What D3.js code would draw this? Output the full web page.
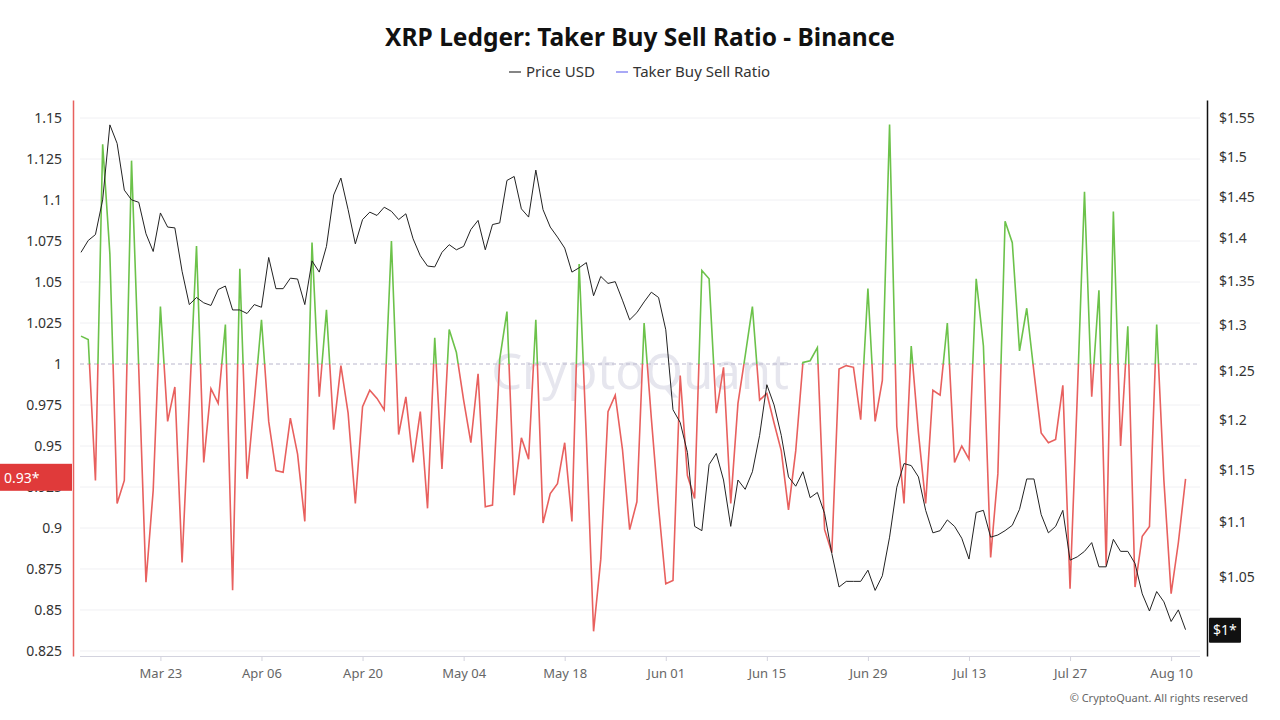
<!DOCTYPE html>
<html>
<head>
<meta charset="utf-8">
<script src="https://cdn.jsdelivr.net/npm/d3@7"></script>
<style>
  body { margin: 0; background: #fff; font-family: "Noto Sans", "Open Sans", sans-serif; }
  svg text { font-family: "Noto Sans", "Open Sans", sans-serif; }
</style>
</head>
<body>
<div id="chart"></div>
<script>
// daily series, first day below, one value per day
var startDay = "2025-03-12";
var priceUSD = [
  1.383, 1.397, 1.404, 1.446, 1.541, 1.517, 1.458, 1.446, 1.443, 1.405,
  1.384, 1.430, 1.413, 1.412, 1.361, 1.323, 1.331, 1.325, 1.322, 1.340,
  1.344, 1.317, 1.317, 1.313, 1.323, 1.320, 1.377, 1.341, 1.341, 1.353,
  1.352, 1.323, 1.373, 1.360, 1.390, 1.452, 1.473, 1.434, 1.393, 1.422,
  1.431, 1.427, 1.437, 1.432, 1.422, 1.429, 1.399, 1.379, 1.367, 1.366,
  1.383, 1.392, 1.386, 1.390, 1.410, 1.421, 1.386, 1.416, 1.418, 1.470,
  1.475, 1.435, 1.425, 1.483, 1.434, 1.413, 1.401, 1.388, 1.360, 1.365,
  1.371, 1.333, 1.355, 1.347, 1.349, 1.328, 1.306, 1.314, 1.326, 1.337,
  1.331, 1.295, 1.210, 1.197, 1.167, 1.096, 1.092, 1.155, 1.166, 1.140,
  1.096, 1.140, 1.131, 1.148, 1.184, 1.236, 1.215, 1.184, 1.143, 1.134,
  1.148, 1.123, 1.128, 1.108, 1.071, 1.041, 1.046, 1.046, 1.046, 1.056,
  1.038, 1.051, 1.086, 1.133, 1.156, 1.154, 1.143, 1.111, 1.090, 1.092,
  1.102, 1.096, 1.085, 1.066, 1.109, 1.111, 1.086, 1.088, 1.092, 1.097,
  1.112, 1.141, 1.141, 1.107, 1.090, 1.096, 1.111, 1.065, 1.068, 1.073,
  1.081, 1.059, 1.059, 1.084, 1.073, 1.073, 1.062, 1.035, 1.020, 1.037,
  1.028, 1.011, 1.021, 1.004
];
var takerRatio = [
  1.017, 1.015, 0.929, 1.134, 1.067, 0.915, 0.929, 1.124, 0.997, 0.867,
  0.923, 1.035, 0.965, 0.986, 0.879, 0.975, 1.072, 0.940, 0.985, 0.976,
  1.024, 0.862, 1.058, 0.930, 0.977, 1.027, 0.965, 0.935, 0.934, 0.967,
  0.945, 0.904, 1.074, 0.980, 1.033, 0.960, 0.999, 0.970, 0.915, 0.974,
  0.984, 0.979, 0.972, 1.075, 0.957, 0.980, 0.940, 0.971, 0.912, 1.016,
  0.936, 1.021, 1.007, 0.978, 0.952, 0.994, 0.913, 0.914, 1.003, 1.032,
  0.920, 0.955, 0.942, 1.027, 0.903, 0.921, 0.927, 0.952, 0.904, 1.061,
  0.955, 0.837, 0.881, 0.971, 0.981, 0.948, 0.899, 0.916, 1.025, 0.967,
  0.913, 0.866, 0.868, 0.993, 0.932, 0.918, 1.057, 1.052, 0.970, 0.998,
  0.915, 0.976, 1.005, 1.035, 0.978, 0.982, 0.964, 0.947, 0.911, 0.947,
  1.001, 1.002, 1.010, 0.899, 0.885, 0.997, 0.999, 0.998, 0.966, 1.046,
  0.965, 0.990, 1.146, 0.962, 0.915, 1.011, 0.958, 0.915, 0.984, 0.981,
  1.025, 0.940, 0.950, 0.942, 1.052, 1.011, 0.882, 0.933, 1.087, 1.074,
  1.008, 1.034, 0.995, 0.958, 0.952, 0.954, 0.987, 0.863, 0.980, 1.105,
  0.980, 1.045, 0.877, 1.093, 0.950, 1.023, 0.864, 0.895, 0.901, 1.024,
  0.929, 0.860, 0.891, 0.930
];
var ratioTicks = [0.825, 0.85, 0.875, 0.9, 0.925, 0.95, 0.975, 1, 1.025, 1.05, 1.075, 1.1, 1.125, 1.15];
var priceTicks = [1.05, 1.1, 1.15, 1.2, 1.25, 1.3, 1.35, 1.4, 1.45, 1.5, 1.55];
var dateTicks = ["2025-03-23", "2025-04-06", "2025-04-20", "2025-05-04", "2025-05-18", "2025-06-01",
                 "2025-06-15", "2025-06-29", "2025-07-13", "2025-07-27", "2025-08-10"];

var W = 1280, H = 720;
var parse = d3.utcParse("%Y-%m-%d");
var day0 = parse(startDay);
var dates = priceUSD.map(function (_, i) { return d3.utcDay.offset(day0, i); });

var svg = d3.select("#chart").append("svg").attr("width", W).attr("height", H);

var plot = {left: 81, right: 1200, top: 100, bottom: 656};

var x = d3.scaleUtc()
  .domain([day0, d3.utcDay.offset(day0, 155)])
  .range([plot.left, plot.right]);
var yL = d3.scaleLinear().domain([0.82195, 1.16098]).range([plot.bottom, plot.top]);
var yR = d3.scaleLog().domain([0.9818, 1.5739]).range([plot.bottom, plot.top]);

// title + legend
svg.append("text").attr("x", 640).attr("y", 46).attr("text-anchor", "middle")
  .style("font-size", "24.5px").style("font-weight", "700").attr("fill", "#111")
  .text("XRP Ledger: Taker Buy Sell Ratio - Binance");

var legend = [{name: "Price USD", color: "#333", x: 509}, {name: "Taker Buy Sell Ratio", color: "#6f6ff0", x: 616}];
var lg = svg.append("g").selectAll("g").data(legend).enter().append("g");
lg.append("line").attr("x1", d => d.x).attr("x2", d => d.x + 12).attr("y1", 72).attr("y2", 72)
  .attr("stroke", d => d.color).attr("stroke-width", 1.2);
lg.append("text").attr("x", d => d.x + 17).attr("y", 77).style("font-size", "15px").attr("fill", "#333")
  .text(d => d.name);

// watermark
svg.append("text").attr("x", 640).attr("y", 389).attr("text-anchor", "middle")
  .style("font-size", "49px").attr("fill", "#e6e6ee").text("CryptoQuant");

// grid
svg.append("g").selectAll("line").data(ratioTicks).enter().append("line")
  .attr("x1", 80).attr("x2", plot.right).attr("y1", d => yL(d)).attr("y2", d => yL(d))
  .attr("stroke", d => d === 1 ? "none" : "#f0f0f3").attr("stroke-width", 1);

// x axis
var xAxis = d3.axisBottom(x).tickValues(dateTicks.map(parse)).tickFormat(d3.utcFormat("%b %d")).tickSize(5).tickPadding(8);
var gx = svg.append("g").attr("transform", "translate(0," + plot.bottom + ")").call(xAxis);
gx.select(".domain").attr("stroke", "#d3d3de").attr("d", "M80,0.5H" + plot.right);
gx.selectAll(".tick line").attr("stroke", "#d3d3de");
gx.selectAll("text").attr("fill", "#666").style("font-size", "13px");

// left axis
var gl = svg.append("g").attr("transform", "translate(73,0)")
  .call(d3.axisLeft(yL).tickValues(ratioTicks).tickFormat(d3.format("")).tickSize(0).tickPadding(11));
gl.select(".domain").attr("stroke", "#e8605e").attr("stroke-width", 1.5);
gl.selectAll("text").attr("fill", "#333").style("font-size", "14px");

// right axis
var gr = svg.append("g").attr("transform", "translate(1207,0)")
  .call(d3.axisRight(yR).tickValues(priceTicks).tickFormat(d => "$" + d3.format("")(d)).tickSize(0).tickPadding(12));
gr.select(".domain").attr("stroke", "#111").attr("stroke-width", 1.5);
gr.selectAll("text").attr("fill", "#333").style("font-size", "14px");

// reference line at 1
svg.append("line").attr("x1", 80).attr("x2", plot.right).attr("y1", yL(1)).attr("y2", yL(1))
  .attr("stroke", "#b9b6cc").attr("stroke-dasharray", "4,3");

// ratio line split at 1
var defs = svg.append("defs");
defs.append("clipPath").attr("id", "above").append("rect")
  .attr("x", 0).attr("y", 0).attr("width", W).attr("height", yL(1));
defs.append("clipPath").attr("id", "below").append("rect")
  .attr("x", 0).attr("y", yL(1)).attr("width", W).attr("height", H - yL(1));

var ratioLine = d3.line().x((d, i) => x(dates[i])).y(d => yL(d));
svg.append("path").datum(takerRatio).attr("d", ratioLine).attr("fill", "none")
  .attr("stroke", "#e8605e").attr("stroke-width", 1.6).attr("clip-path", "url(#below)");
svg.append("path").datum(takerRatio).attr("d", ratioLine).attr("fill", "none")
  .attr("stroke", "#6cc24a").attr("stroke-width", 1.6).attr("clip-path", "url(#above)");

// price line
var priceLine = d3.line().x((d, i) => x(dates[i])).y(d => yR(d));
svg.append("path").datum(priceUSD).attr("d", priceLine).attr("fill", "none")
  .attr("stroke", "#222").attr("stroke-width", 1);

// last value badges (they sit over the axis labels, as in the source chart)
var lastR = takerRatio[takerRatio.length - 1];
var bl = svg.append("g").attr("transform", "translate(0," + yL(lastR) + ")");
bl.append("rect").attr("x", 0).attr("y", -15).attr("width", 72).attr("height", 27).attr("fill", "#e03a3a");
bl.append("text").attr("x", 4).attr("y", 4).attr("fill", "#fff").style("font-size", "14px")
  .text(d3.format(".2f")(lastR) + "*");

var lastP = priceUSD[priceUSD.length - 1];
var br = svg.append("g").attr("transform", "translate(1209," + yR(lastP) + ")");
br.append("rect").attr("x", 0).attr("y", -12).attr("width", 32).attr("height", 25).attr("fill", "#111").attr("rx", 1);
br.append("text").attr("x", 4).attr("y", 5).attr("fill", "#fff").style("font-size", "14px")
  .text("$" + d3.format(".0f")(lastP) + "*");

// copyright
svg.append("text").attr("x", 1248).attr("y", 702).attr("text-anchor", "end")
  .style("font-size", "11px").attr("fill", "#666").text("\u00a9 CryptoQuant. All rights reserved");
</script>
</body>
</html>
